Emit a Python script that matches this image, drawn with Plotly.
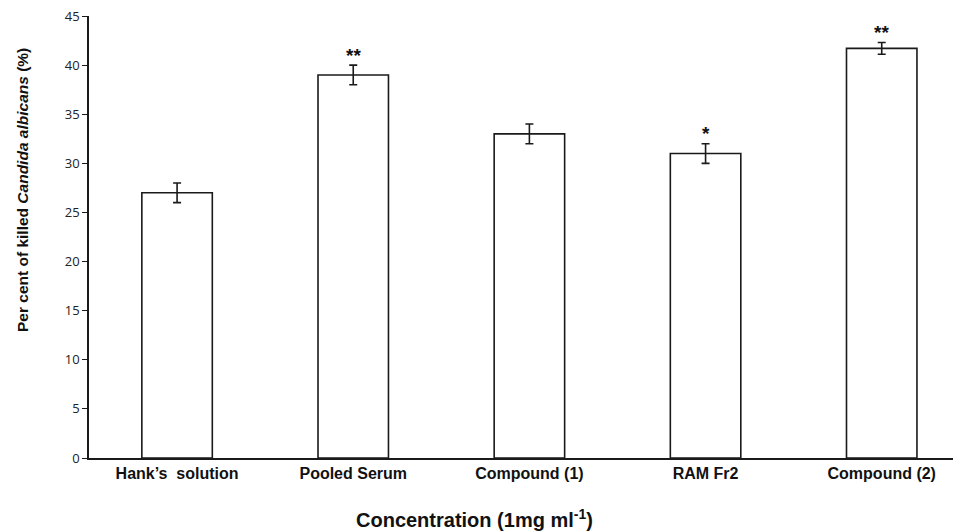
import plotly.graph_objects as go

categories = ["Hank’s  solution", "Pooled Serum", "Compound (1)", "RAM Fr2", "Compound (2)"]
values = [27.0, 39.0, 33.0, 31.0, 41.7]
errors = [1.0, 1.0, 1.0, 1.0, 0.6]
significance = ["", "**", "", "*", "**"]
y_ticks = [0, 5, 10, 15, 20, 25, 30, 35, 40, 45]

# page has an 8px body margin; figure is offset by it
OFF = 8
L, R, T, B = 89 - OFF, 0, 16 - OFF, 74
W, H = 961 - OFF, 532 - OFF
PW, PH = W - L - R, H - T - B

fig = go.Figure()
fig.add_trace(go.Bar(
    x=list(range(len(categories))),
    y=values,
    width=0.40,
    marker=dict(color="white", line=dict(color="#1a1a1a", width=1.6)),
    error_y=dict(type="data", array=errors, visible=True, color="#1a1a1a", thickness=1.6, width=4),
    showlegend=False,
))

for i, (v, e, s) in enumerate(zip(values, errors, significance)):
    if s:
        fig.add_annotation(x=i, y=v + e + 1.0, text="<b>" + s + "</b>", showarrow=False,
                           font=dict(family="Liberation Sans, Arial", size=19, color="#111"),
                           xref="x", yref="y", yanchor="middle")

fig.add_annotation(xref="paper", yref="paper", x=(22 - 89) / PW, y=(458 - 190) / PH,
                   xanchor="center", yanchor="middle", textangle=-90, showarrow=False,
                   text="<b>Per cent of killed <i>Candida albicans</i> (%)</b>",
                   font=dict(family="Liberation Sans, Arial", size=15.5, color="#111"))
fig.add_annotation(xref="paper", yref="paper", x=(474 - 89) / PW, y=-(518 - 458) / PH,
                   xanchor="center", yanchor="middle", showarrow=False,
                   text="<b>Concentration (1mg ml<sup>-1</sup>)</b>",
                   font=dict(family="Liberation Sans, Arial", size=20, color="#111"))

fig.update_layout(
    width=W, height=H,
    margin=dict(l=L, r=R, t=T, b=B, autoexpand=False),
    plot_bgcolor="white", paper_bgcolor="white",
    xaxis=dict(range=[-0.5, 4.45], tickmode="array", tickvals=list(range(len(categories))),
               ticktext=["<b>" + c + "</b>" for c in categories], automargin=False,
               showline=True, linecolor="#1a1a1a", linewidth=1.6, ticks="", showgrid=False,
               zeroline=False, tickfont=dict(family="Liberation Sans, Arial", size=16, color="#111")),
    yaxis=dict(range=[0, 45], tickmode="array", tickvals=y_ticks, showline=True, automargin=False,
               linecolor="#1a1a1a", linewidth=1.6, ticks="outside", ticklen=5, tickwidth=1.4,
               tickcolor="#1a1a1a", showgrid=False, zeroline=False, ticklabeloverflow="allow",
               tickfont=dict(family="Open Sans, Liberation Sans", size=13, color="#222")),
)

fig.write_html("out.html")
